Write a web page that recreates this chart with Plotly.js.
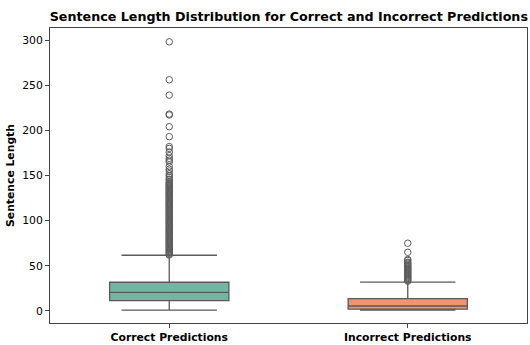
<!DOCTYPE html>
<html>
<head>
<meta charset="utf-8">
<script src="https://cdn.plot.ly/plotly-3.0.1.min.js"></script>
<style>html,body{margin:0;padding:0;background:#fff;}#chart{width:530px;height:345px;}</style>
</head>
<body>
<div id="chart"></div>
<script>
var categories = ["Correct Predictions", "Incorrect Predictions"];
var q1 = [11.5, 2];
var medians = [20.5, 5.5];
var q3 = [31.8, 13.6];
var lowerWhisker = [1, 1];
var upperWhisker = [61.7, 32];
var boxColors = ["#72b6a1", "#e99675"];

var outliersCorrect = [298, 256, 239, 218, 217, 204, 193, 182, 180, 176, 172, 169, 167, 165, 160, 157, 155, 152, 150, 148, 146, 145, 143, 142, 141, 140, 139, 138, 137, 136, 135, 134, 133, 132, 131, 130, 129, 128, 127, 126, 125, 124, 123, 122, 121, 120, 119, 118, 117, 116, 115, 114, 113, 112, 111, 110, 109, 108, 107, 106, 105, 104, 103, 102, 101, 100, 99, 98, 97, 96, 95, 94, 93, 92, 91, 90, 89, 88, 87, 86, 85, 84, 83, 82, 81, 80, 79, 78, 77, 76, 75, 74, 73, 72, 71, 70, 69, 68, 67, 66, 65, 64, 63, 62];
var outliersIncorrect = [75, 65, 57, 56, 54, 53, 52, 51, 50, 49, 48, 47, 46, 45, 44, 43, 42, 41, 40, 39, 38, 37, 36, 35, 34, 33];
var outlierSets = [outliersCorrect, outliersIncorrect];

var lineColor = "#5a5a5a";
var traces = [];
categories.forEach(function (c, i) {
  traces.push({
    type: "box",
    x: [c],
    q1: [q1[i]],
    median: [medians[i]],
    q3: [q3[i]],
    lowerfence: [lowerWhisker[i]],
    upperfence: [upperWhisker[i]],
    boxpoints: false,
    width: 0.5,
    whiskerwidth: 0.8,
    fillcolor: boxColors[i],
    line: {color: lineColor, width: 1.3},
    showlegend: false,
    hoverinfo: "skip"
  });
});
categories.forEach(function (c, i) {
  traces.push({
    type: "scatter",
    mode: "markers",
    x: outlierSets[i].map(function () { return c; }),
    y: outlierSets[i],
    marker: {symbol: "circle-open", size: 6.5, color: "#5e5e5e", line: {width: 1, color: "#5e5e5e"}},
    showlegend: false,
    hoverinfo: "skip"
  });
});

var layout = {
  width: 530, height: 345,
  margin: {l: 50, r: 3, t: 28, b: 22},
  paper_bgcolor: "#fff", plot_bgcolor: "#fff",
  font: {family: "DejaVu Sans", size: 10, color: "#000"},
  title: {text: "<b>Sentence Length Distribution for Correct and Incorrect Predictions</b>",
    font: {family: "DejaVu Sans", size: 12.7, color: "#000"},
    x: 0.545, xanchor: "center", y: 0.952, yanchor: "middle"},
  xaxis: {type: "category", categoryorder: "array", categoryarray: categories,
    range: [-0.5, 1.5], showline: true, mirror: true, linecolor: "#444", linewidth: 1,
    ticks: "outside", ticklen: 4, tickcolor: "#444", showgrid: false, zeroline: false,
    tickfont: {family: "DejaVu Sans", size: 10.8, color: "#000", weight: "bold"}},
  yaxis: {range: [-13.3, 313.3], dtick: 50, tick0: 0, showline: true, mirror: true,
    linecolor: "#444", linewidth: 1, ticks: "outside", ticklen: 4, tickcolor: "#444",
    showgrid: false, zeroline: false,
    tickfont: {family: "DejaVu Sans", size: 10.8, color: "#000"},
    title: {text: "<b>Sentence Length</b>", font: {family: "DejaVu Sans", size: 10.8, color: "#000"}, standoff: 5}}
};

Plotly.newPlot("chart", traces, layout, {displayModeBar: false, staticPlot: true});
</script>
</body>
</html>
